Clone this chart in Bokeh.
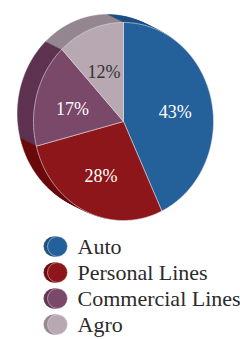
import numpy as np
from bokeh.plotting import figure
from bokeh.models import Range1d, ColumnDataSource
from bokeh.core.properties import value
from bokeh.embed import file_html
from bokeh.resources import INLINE

categories = ["Auto", "Personal Lines", "Commercial Lines", "Agro"]
shares = [43, 28, 17, 12]
labels = ["43%", "28%", "17%", "12%"]
face_colors = ["#24609A", "#8C1619", "#7A4868", "#B8A8B2"]
side_colors = ["#1C5085", "#6B0A0C", "#5E3350", "#948791"]
label_colors = ["#FFFFFF", "#FFFFFF", "#FFFFFF", "#333333"]

W, H = 240, 339
cx, cy = 123, 121
rx, ry = 90, 99
ddx, ddy = -16, -8
layers = 12

p = figure(width=W, height=H, output_backend="svg", toolbar_location=None,
           x_range=Range1d(0, W), y_range=Range1d(H, 0), min_border=0)
p.axis.visible = False
p.grid.visible = False
p.outline_line_color = None
p.background_fill_color = "white"

fr = np.array(shares, dtype=float) / sum(shares)
ends = np.cumsum(fr)
starts = ends - fr

def wedge_pts(a0, a1, ox, oy):
    t = np.linspace(a0, a1, 80) * 2 * np.pi
    xs = [ox] + list(ox + rx * np.sin(t)) + [ox]
    ys = [oy] + list(oy - ry * np.cos(t)) + [oy]
    return xs, ys

# extruded sides (back to front)
sx, sy, sc = [], [], []
for k in range(layers, 0, -1):
    f = k / layers
    for i in range(len(shares)):
        xs, ys = wedge_pts(starts[i], ends[i], cx + ddx * f, cy + ddy * f)
        sx.append(xs); sy.append(ys); sc.append(side_colors[i])
p.patches(xs="xs", ys="ys", fill_color="c", line_color="c", line_width=0.5,
          source=ColumnDataSource(dict(xs=sx, ys=sy, c=sc)))

# front faces
fx, fy = [], []
for i in range(len(shares)):
    xs, ys = wedge_pts(starts[i], ends[i], cx, cy)
    fx.append(xs); fy.append(ys)
p.patches(xs="xs", ys="ys", fill_color="c", line_color="#E8E0E6", line_width=0.6,
          source=ColumnDataSource(dict(xs=fx, ys=fy, c=face_colors)))

# labels
mid = (starts + ends) / 2 * 2 * np.pi
lx = cx + 53 * np.sin(mid)
ly = (cy + 3) - 57 * np.cos(mid)
p.text(x=lx, y=ly, text=labels, text_color=label_colors,
       text_font=value("Liberation Serif"), text_font_size="18px",
       text_align="center", text_baseline="middle")

# legend
row0, step = 246, 26
ry_leg = [row0 + step * i for i in range(len(categories))]
for off in (4, 3, 2, 1):
    p.scatter(x=[57 - off] * 4, y=ry_leg, size=20, marker="circle",
              fill_color=side_colors, line_color=None, alpha=0.9)
p.scatter(x=[57] * 4, y=ry_leg, size=20, marker="circle",
          fill_color=face_colors, line_color="#EEEEEE", line_width=0.5)
p.text(x=[77] * 4, y=ry_leg, text=categories, text_color="#2B2B2B",
       text_font=value("Liberation Serif"), text_font_size="22px",
       text_align="left", text_baseline="middle")

open("out.html", "w").write(file_html(p, INLINE))
